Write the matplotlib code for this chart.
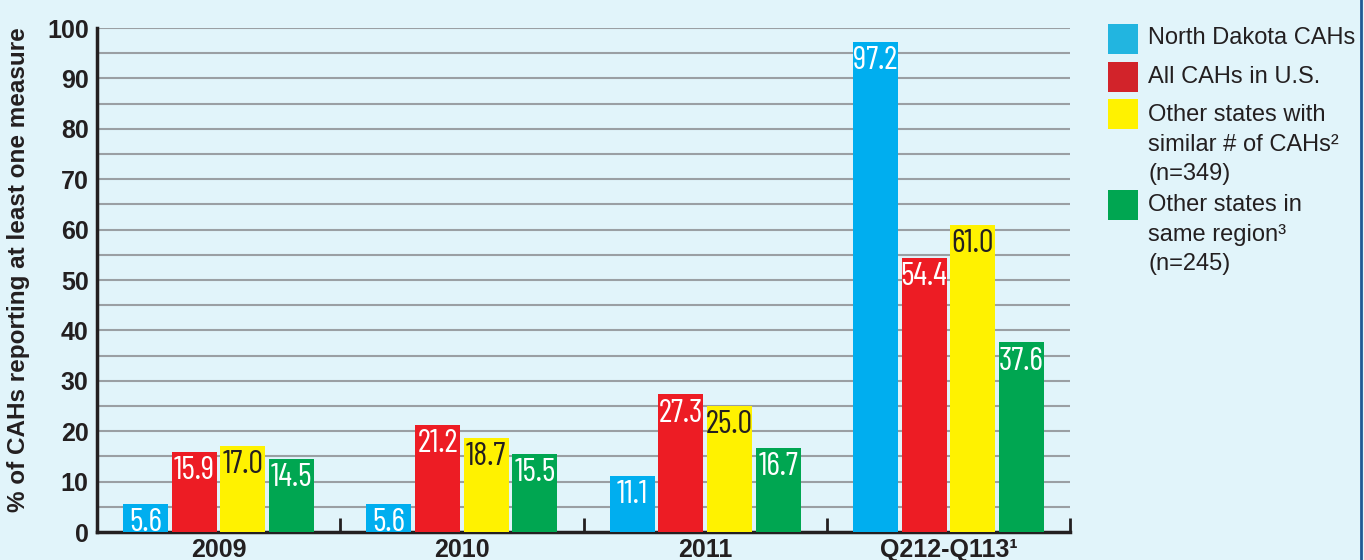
import matplotlib
matplotlib.use("Agg")
import matplotlib.pyplot as plt
from matplotlib.patches import Rectangle
from matplotlib.lines import Line2D
import numpy as np

categories = ["2009", "2010", "2011", "Q212-Q113\u00b9"]
series_names = ["North Dakota CAHs", "All CAHs in U.S.",
                "Other states with\nsimilar # of CAHs\u00b2\n(n=349)",
                "Other states in\nsame region\u00b3\n(n=245)"]
north_dakota = [5.6, 5.6, 11.1, 97.2]
all_us = [15.9, 21.2, 27.3, 54.4]
similar_states = [17.0, 18.7, 25.0, 61.0]
same_region = [14.5, 15.5, 16.7, 37.6]
yticks = [0, 10, 20, 30, 40, 50, 60, 70, 80, 90, 100]

colors = ["#00AEEF", "#ED1C24", "#FFF200", "#00A651"]
legend_colors = ["#22B5E0", "#D2232A", "#FFF200", "#00A651"]
label_colors = ["white", "white", "#231F20", "white"]
bg = "#E1F4FA"
dark = "#231F20"

fig = plt.figure(figsize=(13.64, 5.6), dpi=100, facecolor=bg)
ax = fig.add_axes([97/1364, 1 - 532/560, (1070-97)/1364, (532-28)/560])
ax.set_facecolor(bg)

series = [north_dakota, all_us, similar_states, same_region]
x = np.arange(len(categories)) + 0.5
width = 0.185
pitch = 0.2
label_font = ['Barlow Condensed', 'DejaVu Sans']
for i, vals in enumerate(series):
    xs = x + (i - 1.5) * pitch
    ax.bar(xs, vals, width=width, color=colors[i], zorder=3, linewidth=0)
    for xi, v in zip(xs, vals):
        ax.annotate(f"{v:.1f}", (xi, v), xytext=(0, -3), textcoords="offset points",
                    ha="center", va="top", color=label_colors[i], fontsize=23.5,
                    family=label_font, zorder=4)

ax.set_xlim(0, 4)
ax.set_ylim(0, 100)
ax.set_yticks(yticks)
ax.set_yticklabels([str(t) for t in yticks], fontsize=18, fontweight="bold",
                   family="Liberation Sans", color=dark)
for yv in np.arange(5, 101, 5):
    ax.axhline(yv, color="#9A9FA3", linewidth=1.5, zorder=1)
ax.tick_params(axis="y", length=0, pad=6)

ax.set_xticks([0, 1, 2, 3, 4])
ax.set_xticklabels([])
ax.tick_params(axis="x", direction="in", length=10, width=2, color=dark)
ax.set_xticks(x, minor=True)
ax.set_xticklabels(categories, minor=True, fontsize=18, fontweight="bold",
                   family="Liberation Sans", color=dark)
ax.tick_params(axis="x", which="minor", length=0, pad=4)

for s in ["top", "right"]:
    ax.spines[s].set_visible(False)
for s in ["left", "bottom"]:
    ax.spines[s].set_color(dark)
    ax.spines[s].set_linewidth(2.5)

ax.set_ylabel("% of CAHs reporting at least one measure", fontsize=17.5,
              fontweight="bold", family="Liberation Sans", color=dark)
ax.yaxis.set_label_coords(-67/973, 0.52)

# legend (drawn by hand to mirror the reference layout)
patch_y = [24, 62, 99, 190]
line_step = 29.5
first_line_y = [38, 77, 115, 205]
for c, py, ty, name in zip(legend_colors, patch_y, first_line_y, series_names):
    fig.patches.append(Rectangle((1108/1364, 1 - (py+30)/560), 30/1364, 30/560,
                                 transform=fig.transFigure, color=c, linewidth=0))
    for k, line in enumerate(name.split("\n")):
        fig.text(1148/1364, 1 - (ty + k*line_step)/560, line, ha="left", va="center",
                 fontsize=17, family="Liberation Sans", color=dark)

# page frame line at the right edge
fig.add_artist(Line2D([1361/1364, 1361/1364], [0, 1], transform=fig.transFigure,
                      color="#1F5A94", linewidth=2))

fig.savefig("out.png", dpi=100, facecolor=bg)
